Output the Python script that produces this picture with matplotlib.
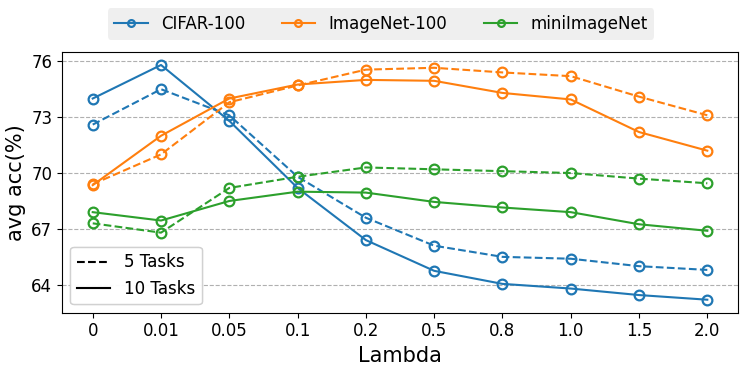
import numpy as np
import matplotlib
matplotlib.use("Agg")
import matplotlib.pyplot as plt
from matplotlib.lines import Line2D

#==================================== data ====================================
lambdas = ["0", "0.01", "0.05", "0.1", "0.2", "0.5", "0.8", "1.0", "1.5", "2.0"]
datasets = ["CIFAR-100", "ImageNet-100", "miniImageNet"]

# 5 tasks (dashed)
cifar_5 = [72.6, 74.5, 73.1, 69.8, 67.6, 66.1, 65.5, 65.4, 65.0, 64.8]
imnet_5 = [69.4, 71.0, 73.8, 74.7, 75.55, 75.65, 75.4, 75.2, 74.1, 73.1]
mini_5  = [67.3, 66.8, 69.2, 69.8, 70.3, 70.2, 70.1, 70.0, 69.7, 69.45]

# 10 tasks (solid)
cifar_10 = [74.0, 75.8, 72.8, 69.2, 66.4, 64.75, 64.05, 63.8, 63.45, 63.2]
imnet_10 = [69.35, 72.0, 74.0, 74.75, 75.0, 74.95, 74.3, 73.95, 72.2, 71.2]
mini_10  = [67.9, 67.45, 68.5, 69.0, 68.95, 68.45, 68.15, 67.9, 67.25, 66.9]

yticks = [64, 67, 70, 73, 76]

#==================================== plot ====================================
x = np.arange(len(lambdas))
colors = ["C0", "C1", "C2"]
five = [cifar_5, imnet_5, mini_5]
ten = [cifar_10, imnet_10, mini_10]

fig, ax = plt.subplots(figsize=(7.47, 3.71), dpi=100)
mk = dict(marker="o", mfc="none", ms=7, mew=1.6, lw=1.5)

handles = []
for i in range(3):
    ax.plot(x, five[i], ls="--", c=colors[i], **mk)
    h, = ax.plot(x, ten[i], ls="-", c=colors[i], label=datasets[i], **mk)
    handles.append(h)

ax.set_xticks(x)
ax.set_xticklabels(lambdas)
ax.set_yticks(yticks)
ax.set_ylim(62.5, 76.5)
ax.tick_params(axis="both", labelsize=12)
ax.grid(axis="y", ls="--", c="#b0b0b0", lw=0.8)
ax.set_axisbelow(True)
ax.set_xlabel("Lambda", fontsize=15)
ax.set_ylabel("avg acc(%)", fontsize=15)

style_h = [Line2D([], [], c="k", ls="--", lw=1.5), Line2D([], [], c="k", ls="-", lw=1.5)]
leg2 = ax.legend(style_h, ["5 Tasks", "10 Tasks"], loc="lower left", fontsize=12)
ax.add_artist(leg2)

leg1 = fig.legend(handles=handles, loc="upper center", ncol=3, fontsize=12,
                  bbox_to_anchor=(0.51, 1.0), frameon=True, markerscale=0.7,
                  columnspacing=2.2)
leg1.get_frame().set_facecolor("#ececec")
leg1.get_frame().set_edgecolor("none")

plt.subplots_adjust(left=0.083, right=0.988, top=0.86, bottom=0.157)
plt.savefig("out.png", dpi=100)
